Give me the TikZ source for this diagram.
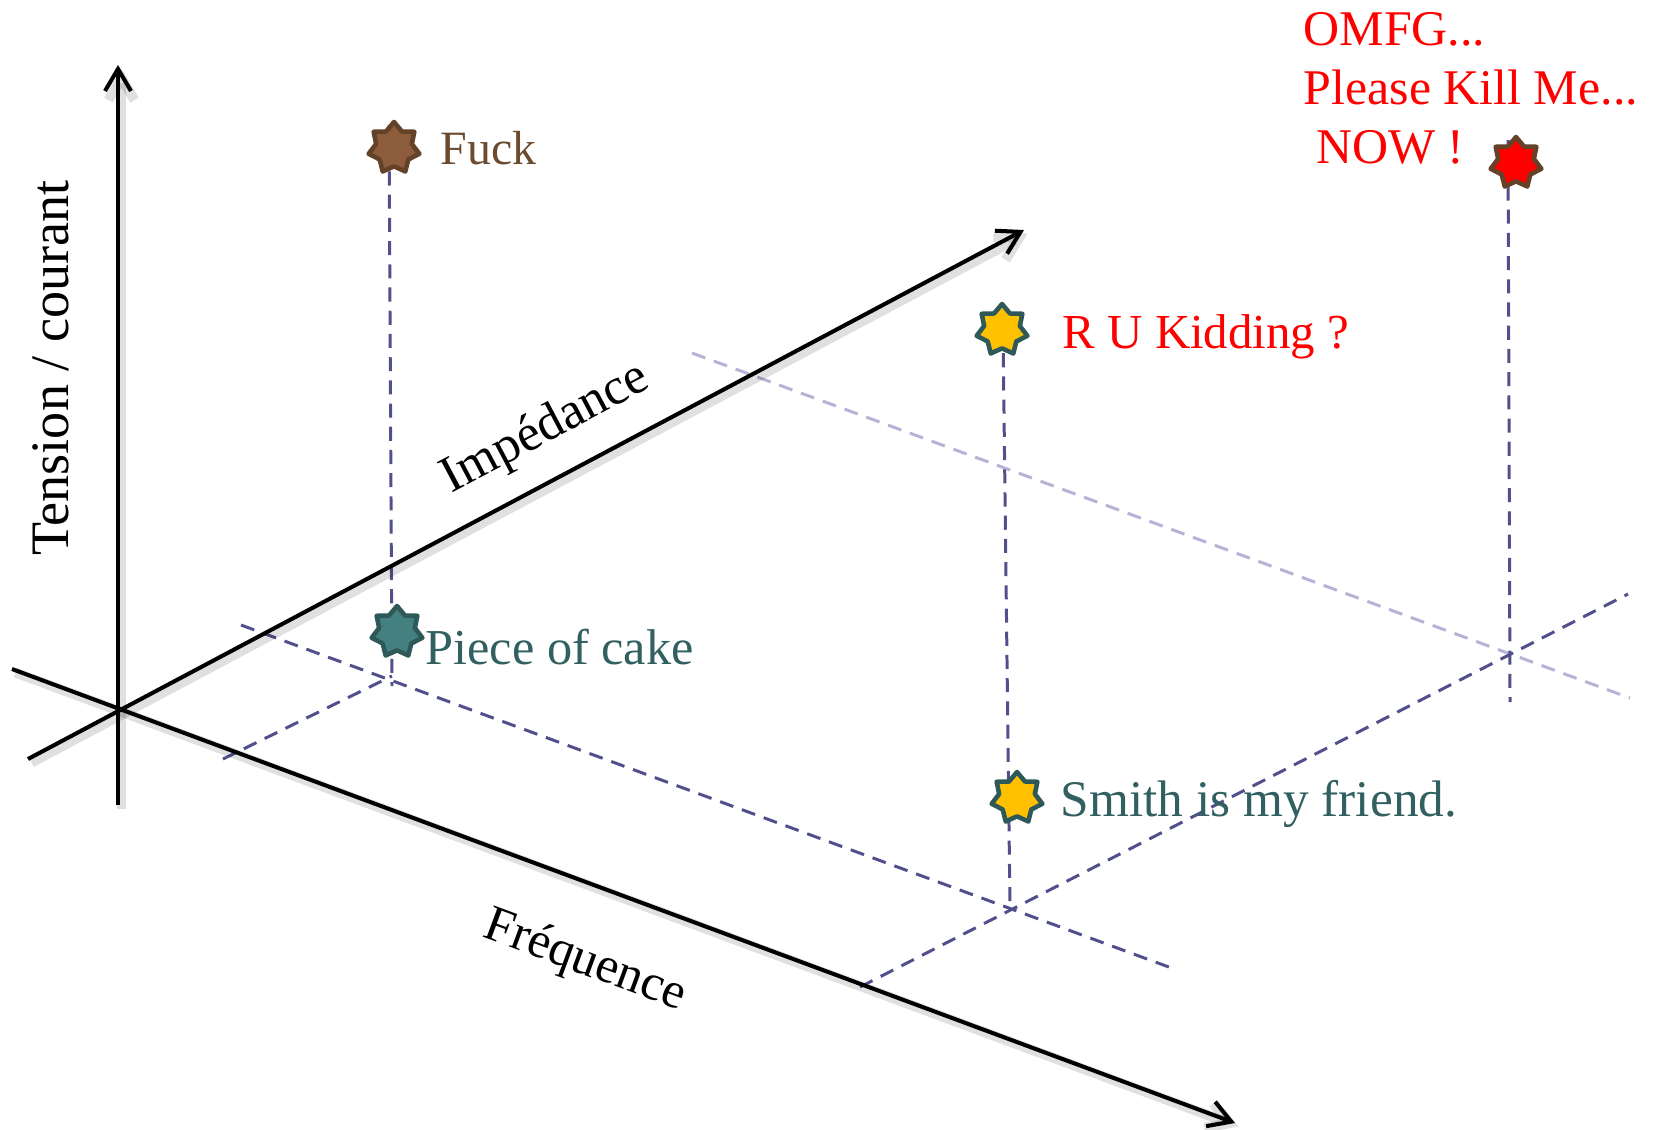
\documentclass[tikz,border=0pt]{standalone}
\usepackage{fontspec}
\setmainfont{Liberation Serif}
\usetikzlibrary{arrows.meta,shapes.geometric}

\definecolor{brownink}{RGB}{108,74,46}
\definecolor{brownfill}{RGB}{140,92,60}
\definecolor{brownline}{RGB}{100,66,40}
\definecolor{tealink}{RGB}{50,96,96}
\definecolor{tealfill}{RGB}{68,128,128}
\definecolor{tealline}{RGB}{47,88,88}
\definecolor{gold}{RGB}{255,192,0}
\definecolor{guide}{RGB}{82,80,140}
\definecolor{guidelight}{RGB}{182,180,214}

\begin{document}
\begin{tikzpicture}[x=0.01cm, y=-0.01cm,
  axisline/.style={line width=1.15pt, black,
    -{Straight Barb[length=2.2mm, width=2.6mm]},
    preaction={draw=black, opacity=0.12, line width=2.8pt,
      transform canvas={shift={(0.035cm,-0.035cm)}}}},
  guideline/.style={draw=guide, line width=0.85pt, dash pattern=on 4pt off 2.6pt},
  faintline/.style={draw=guidelight, line width=0.85pt, dash pattern=on 4pt off 2.6pt},
  starmark/.style={star, star points=7, star point ratio=1.42,
    minimum size=0.52cm, inner sep=0pt, line width=1.3pt, line join=round},
  tagtext/.style={inner sep=0pt, anchor=base west},
  axistext/.style={inner sep=0pt},
]
\useasboundingbox (0,0) rectangle (1655,1129);

% axis end points
\coordinate (vlo) at (118,805);
\coordinate (vhi) at (118,65);
\coordinate (zlo) at (28,759);
\coordinate (zhi) at (1024,230);
\coordinate (flo) at (12,669);
\coordinate (fhi) at (1235,1123);

% projection guides
\coordinate (fucktop) at (389,125);
\coordinate (p1) at (392,686);
\coordinate (a1) at (223,759);
\coordinate (a2) at (392,676);
\coordinate (b1) at (241,625);
\coordinate (b2) at (1177,970);
\coordinate (rutop) at (1003,330);
\coordinate (p2) at (1010,909);
\coordinate (c1) at (860,987);
\coordinate (c2) at (1628,594);
\coordinate (omtop) at (1508,140);
\coordinate (ombot) at (1510,702);
\coordinate (d1) at (692,353);
\coordinate (d2) at (1630,698);

\draw[faintline] (d1) -- (d2);
\draw[guideline] (fucktop) -- (p1);
\draw[guideline] (a1) -- (a2);
\draw[guideline] (b1) -- (b2);
\draw[guideline] (rutop) -- (p2);
\draw[guideline] (c1) -- (c2);
\draw[guideline] (omtop) -- (ombot);

% axes
\draw[axisline] (vlo) -- (vhi);
\draw[axisline] (zlo) -- (zhi);
\draw[axisline] (flo) -- (fhi);

% axis names
\node[axistext, rotate=90, font=\fontsize{15.4}{18}\selectfont] (ltension) at (51,368) {Tension / courant};
\node[axistext, rotate=27.9, font=\fontsize{14.7}{18}\selectfont] (limp) at (546,429) {Impédance};
\node[axistext, rotate=-20.3, font=\fontsize{14.4}{18}\selectfont] (lfreq) at (585,962) {Fréquence};

% marked points
\node[starmark, fill=brownfill, draw=brownline] (sfuck) at (394,148) {};
\node[starmark, fill=tealfill, draw=tealline] (spiece) at (397,632) {};
\node[starmark, fill=gold, draw=tealline] (sru) at (1002,330) {};
\node[starmark, fill=gold, draw=tealline] (ssmith) at (1017,798) {};
\node[starmark, fill=red, draw=brownline] (somfg) at (1516,163) {};

% their captions
\node[tagtext, text=brownink, font=\fontsize{13.6}{16}\selectfont] (tfuck) at (440,164) {Fuck};
\node[tagtext, text=tealink, font=\fontsize{14.3}{17}\selectfont] (tpiece) at (425,664) {Piece of cake};
\node[tagtext, text=red, font=\fontsize{13.9}{17}\selectfont] (tru) at (1062,348) {R U Kidding ?};
\node[tagtext, text=tealink, font=\fontsize{14.6}{17}\selectfont] (tsmith) at (1060,816) {Smith is my friend.};
\node[tagtext, text=red, font=\fontsize{14.2}{16.8}\selectfont] (tomfg) at (1303,45)
  {\begin{tabular}[t]{@{}l@{}}OMFG...\\Please Kill Me...\\\ NOW !\end{tabular}};
\end{tikzpicture}
\end{document}
